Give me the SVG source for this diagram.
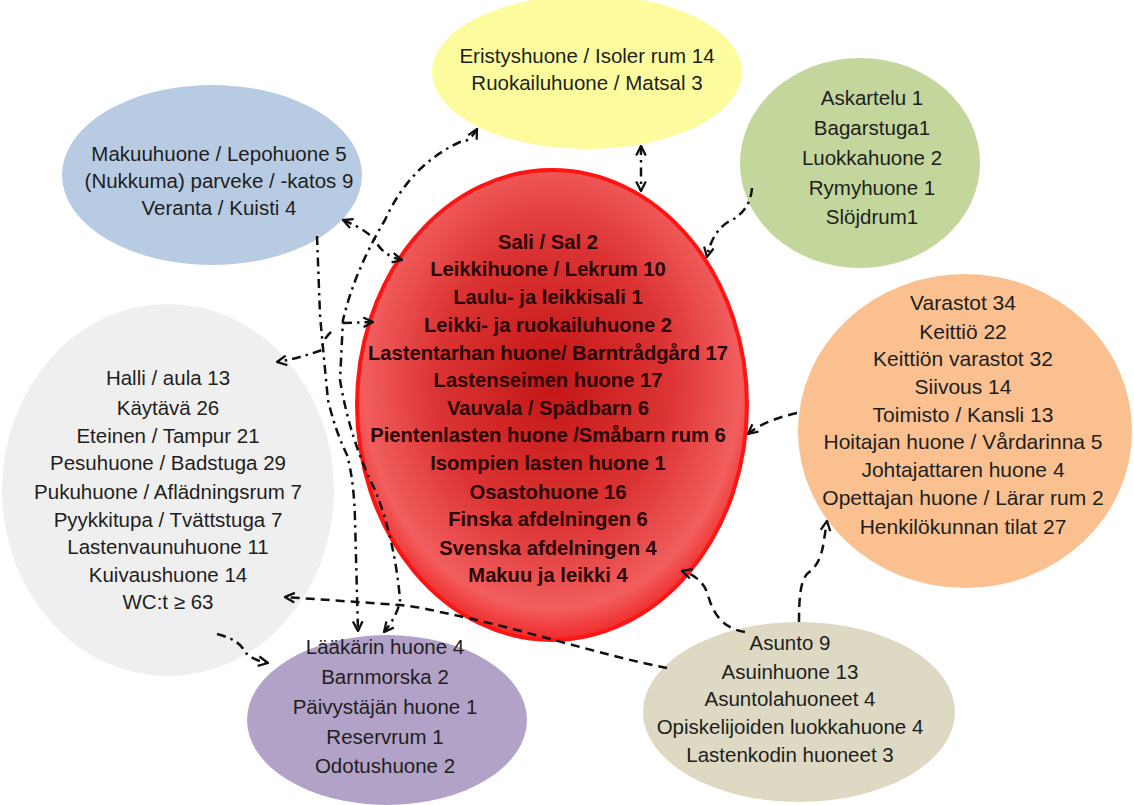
<svg xmlns="http://www.w3.org/2000/svg" width="1134" height="805" viewBox="0 0 1134 805">
<style>
.t{font-family:"Liberation Sans",Arial,sans-serif;font-size:20.5px;fill:#1e1e1e;text-anchor:middle}
.to{font-size:21px}
.tb{font-family:"Liberation Sans",Arial,sans-serif;font-size:20.2px;font-weight:bold;fill:#2a0606;text-anchor:middle}
.dd{fill:none;stroke:#111;stroke-width:2.5;stroke-dasharray:9 5 2.5 5}
.da{fill:none;stroke:#111;stroke-width:2.5;stroke-dasharray:9 6}
</style>
<defs>
<radialGradient id="rg" cx="0.5" cy="0.45" r="0.55">
<stop offset="0" stop-color="#c41616"/>
<stop offset="0.55" stop-color="#dc3434"/>
<stop offset="0.88" stop-color="#f25e5e"/>
<stop offset="1" stop-color="#f02a2a"/>
</radialGradient>
<marker id="ah" viewBox="0 0 10 10" refX="9" refY="5" markerWidth="12" markerHeight="12" markerUnits="userSpaceOnUse" orient="auto-start-reverse">
<path d="M1,1 L9,5 L1,9" fill="none" stroke="#111" stroke-width="1.9"/>
</marker>
</defs>
<rect width="1134" height="805" fill="#fff"/>

<g id="yellow">
<ellipse cx="587" cy="72" rx="155" ry="77" fill="#fcfc9e"/>
<text class="t" x="587" y="63">Eristyshuone / Isoler rum 14</text>
<text class="t" x="587" y="90">Ruokailuhuone / Matsal 3</text>
</g>

<g id="blue">
<ellipse cx="212" cy="175" rx="150" ry="90" fill="#b7cbe3"/>
<text class="t" x="219" y="161">Makuuhuone / Lepohuone 5</text>
<text class="t" x="219" y="188">(Nukkuma) parveke / -katos 9</text>
<text class="t" x="219" y="215">Veranta / Kuisti 4</text>
</g>

<g id="green">
<ellipse cx="860" cy="163" rx="120" ry="105" fill="#c3d69b"/>
<text class="t" x="872" y="105">Askartelu 1</text>
<text class="t" x="872" y="135">Bagarstuga1</text>
<text class="t" x="872" y="165">Luokkahuone  2</text>
<text class="t" x="872" y="195">Rymyhuone 1</text>
<text class="t" x="872" y="224">Slöjdrum1</text>
</g>

<g id="grey">
<ellipse cx="168" cy="490" rx="166" ry="186" fill="#efefef"/>
<text class="t" x="168" y="385">Halli / aula 13</text>
<text class="t" x="168" y="415">Käytävä 26</text>
<text class="t" x="168" y="443">Eteinen / Tampur 21</text>
<text class="t" x="168" y="470">Pesuhuone / Badstuga 29</text>
<text class="t" x="168" y="499">Pukuhuone / Aflädningsrum 7</text>
<text class="t" x="168" y="527">Pyykkitupa / Tvättstuga 7</text>
<text class="t" x="168" y="554">Lastenvaunuhuone 11</text>
<text class="t" x="168" y="582">Kuivaushuone 14</text>
<text class="t" x="168" y="609">WC:t ≥ 63</text>
</g>

<g id="orange">
<ellipse cx="965" cy="431" rx="167" ry="157" fill="#fac090"/>
<text class="t to" x="963" y="310">Varastot 34</text>
<text class="t to" x="963" y="339">Keittiö 22</text>
<text class="t to" x="963" y="366">Keittiön varastot 32</text>
<text class="t to" x="963" y="394">Siivous 14</text>
<text class="t to" x="963" y="422">Toimisto / Kansli 13</text>
<text class="t to" x="963" y="449">Hoitajan huone / Vårdarinna 5</text>
<text class="t to" x="963" y="477">Johtajattaren huone 4</text>
<text class="t to" x="963" y="505">Opettajan huone / Lärar rum 2</text>
<text class="t to" x="963" y="534">Henkilökunnan tilat 27</text>
</g>

<g id="purple">
<ellipse cx="387" cy="720" rx="140" ry="85" fill="#b3a2c7"/>
<text class="t" x="385" y="654">Lääkärin huone 4</text>
<text class="t" x="385" y="684">Barnmorska 2</text>
<text class="t" x="385" y="714">Päivystäjän huone 1</text>
<text class="t" x="385" y="744">Reservrum 1</text>
<text class="t" x="385" y="773">Odotushuone 2</text>
</g>

<g id="beige">
<ellipse cx="799" cy="712" rx="156" ry="90" fill="#ddd9c3"/>
<text class="t" x="790" y="650">Asunto 9</text>
<text class="t" x="790" y="679">Asuinhuone 13</text>
<text class="t" x="790" y="706">Asuntolahuoneet 4</text>
<text class="t" x="790" y="734">Opiskelijoiden luokkahuone 4</text>
<text class="t" x="790" y="762">Lastenkodin huoneet 3</text>
</g>

<g id="red">
<ellipse cx="552" cy="405" rx="195" ry="235" fill="url(#rg)" stroke="#ff1414" stroke-width="4"/>
<text class="tb" x="548" y="249">Sali / Sal 2</text>
<text class="tb" x="548" y="276">Leikkihuone / Lekrum  10</text>
<text class="tb" x="548" y="304">Laulu- ja leikkisali 1</text>
<text class="tb" x="548" y="332">Leikki- ja ruokailuhuone 2</text>
<text class="tb" x="548" y="360">Lastentarhan huone/ Barntrådgård 17</text>
<text class="tb" x="548" y="387">Lastenseimen huone 17</text>
<text class="tb" x="548" y="415">Vauvala / Spädbarn 6</text>
<text class="tb" x="548" y="442">Pientenlasten huone /Småbarn rum 6</text>
<text class="tb" x="548" y="470">Isompien lasten huone 1</text>
<text class="tb" x="548" y="499">Osastohuone 16</text>
<text class="tb" x="548" y="526">Finska afdelningen 6</text>
<text class="tb" x="548" y="555">Svenska afdelningen 4</text>
<text class="tb" x="548" y="582">Makuu ja leikki 4</text>
</g>

<g id="connectors">
<path class="dd" d="M343,220 Q372,232 378,245 Q385,256 402,260" marker-start="url(#ah)" marker-end="url(#ah)"/>
<path class="dd" d="M641,146 L641,191" marker-start="url(#ah)" marker-end="url(#ah)"/>
<path class="dd" d="M752,188 Q750,212 728,222 Q712,232 707,257" marker-end="url(#ah)"/>
<path class="da" d="M797,413 Q765,420 748,434" marker-end="url(#ah)"/>
<path class="da" d="M745,632 C720,628 712,610 708,595 C704,582 695,575 682,571" marker-end="url(#ah)"/>
<path class="da" d="M799,622 C799,600 800,580 808,573 C818,566 822,555 824,540 L827,521" marker-end="url(#ah)"/>
<path class="da" d="M667,668 C600,655 520,628 440,612 Q420,607 400,605 L285,597" marker-end="url(#ah)"/>
<path class="dd" d="M217,634 Q240,640 245,652 Q252,660 268,663" marker-end="url(#ah)"/>
<path class="dd" d="M477,129 Q470,142 460,142 Q410,165 385,220 Q355,270 343,320 L340,380 Q350,440 375,490 Q395,540 400,600 Q398,615 384,632" marker-start="url(#ah)" marker-end="url(#ah)"/>
<path class="dd" d="M317,236 L320,315 Q324,360 328,400 Q335,430 347,455 Q354,480 355,520 L358,631" marker-end="url(#ah)"/>
<path class="dd" d="M343,323 L373,322" marker-end="url(#ah)"/>
<path class="dd" d="M331,332 Q322,340 322,350 Q300,358 277,362" marker-end="url(#ah)"/>
</g>
</svg>
